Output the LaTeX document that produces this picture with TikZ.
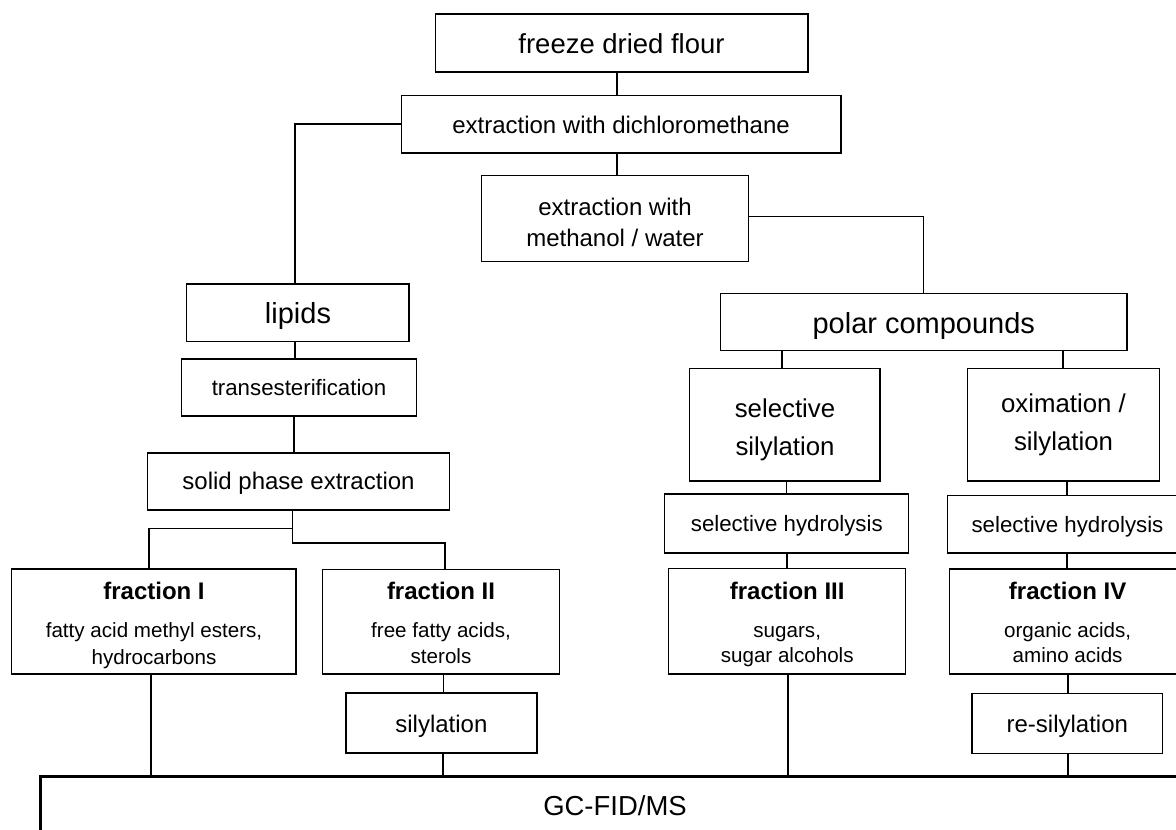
\documentclass[tikz,border=0pt]{standalone}
\usepackage{fontspec}
\setmainfont{Liberation Sans}
\usetikzlibrary{fit}
\newcommand\szXL{\fontsize{21.75pt}{26pt}\selectfont}
\newcommand\szL{\fontsize{20.6pt}{24pt}\selectfont}
\newcommand\szMM{\fontsize{19.35pt}{23pt}\selectfont}
\newcommand\szM{\fontsize{18pt}{22pt}\selectfont}
\newcommand\szS{\fontsize{16.7pt}{20pt}\selectfont}
\newcommand\szXS{\fontsize{15.45pt}{18pt}\selectfont}
\begin{document}
\begin{tikzpicture}[x=0.75pt,y=-0.75pt,
  box/.style={draw=black, line width=1pt, inner sep=0pt},
  gcbox/.style={draw=black, line width=2pt, inner sep=0pt},
  conn/.style={draw=black, line width=1pt},
  txt/.style={anchor=base, inner sep=0pt}]
\useasboundingbox (0,0) rectangle (1176,829);
\clip (0,0) rectangle (1176,829);
\fill[white] (0,0) rectangle (1176,829);
% boxes
\node[box, fit={(435.5,14) (808,72)}] (freeze) {};
\node[box, fit={(401.4,95.7) (841,153)}] (dcm) {};
\node[box, fit={(481.8,175.3) (748.4,261.3)}] (meoh) {};
\node[box, fit={(186.7,284) (409,341.3)}] (lipids) {};
\node[box, fit={(181.8,359) (416.3,416)}] (trans) {};
\node[box, fit={(147.5,453) (449.6,510)}] (spe) {};
\node[box, fit={(720.6,293.3) (1127,350.3)}] (polar) {};
\node[box, fit={(689.8,368.3) (879.9,481)}] (selsil) {};
\node[box, fit={(967.7,368.3) (1159.3,481)}] (oxim) {};
\node[box, fit={(664.8,494) (908.8,553)}] (selhydL) {};
\node[box, fit={(947.2,495.7) (1188,553)}] (selhydR) {};
\node[box, fit={(11.8,569) (296.1,674)}] (fI) {};
\node[box, fit={(322.6,569.3) (559.4,674)}] (fII) {};
\node[box, fit={(345.9,693) (536.9,753)}] (silyl) {};
\node[box, fit={(668.6,568.7) (905.7,674)}] (fIII) {};
\node[box, fit={(949.4,569) (1186,674)}] (fIV) {};
\node[box, fit={(971.9,693.3) (1162.7,753.7)}] (resil) {};
\node[gcbox, fit={(40.5,776.5) (1190,860)}] (gc) {};
% connector coordinates
\coordinate (cA) at (617,0);
\coordinate (cB) at (295,124);
\coordinate (cC) at (923.5,216.7);
\coordinate (cD) at (295,0);
\coordinate (cE) at (294,0);
\coordinate (cF) at (292.8,528.3);
\coordinate (cG) at (149,0);
\coordinate (cH) at (292.8,543);
\coordinate (cI) at (445,0);
\coordinate (cJ) at (151,0);
\coordinate (cK) at (443.5,0);
\coordinate (cL) at (443,0);
\coordinate (cM) at (782,0);
\coordinate (cN) at (1063,0);
\coordinate (cO) at (786.5,0);
\coordinate (cP) at (787,0);
\coordinate (cQ) at (788,0);
\coordinate (cR) at (1067,0);
\coordinate (cS) at (1068,0);
% connectors
\draw[conn] (freeze.south -| cA) -- (dcm.north -| cA);
\draw[conn] (dcm.south -| cA) -- (meoh.north -| cA);
\draw[conn] (dcm.west |- cB) -| (lipids.north -| cB);
\draw[conn] (meoh.east |- cC) -| (polar.north -| cC);
\draw[conn] (lipids.south -| cD) -- (trans.north -| cD);
\draw[conn] (trans.south -| cE) -- (spe.north -| cE);
\draw[conn] (spe.south -| cF) |- (cG |- cF) -- (fI.north -| cG);
\draw[conn] (spe.south -| cH) |- (cI |- cH) -- (fII.north -| cI);
\draw[conn] (fI.south -| cJ) -- (gc.north -| cJ);
\draw[conn] (fII.south -| cK) -- (silyl.north -| cK);
\draw[conn] (silyl.south -| cL) -- (gc.north -| cL);
\draw[conn] (polar.south -| cM) -- (selsil.north -| cM);
\draw[conn] (polar.south -| cN) -- (oxim.north -| cN);
\draw[conn] (selsil.south -| cO) -- (selhydL.north -| cO);
\draw[conn] (selhydL.south -| cP) -- (fIII.north -| cP);
\draw[conn] (fIII.south -| cQ) -- (gc.north -| cQ);
\draw[conn] (oxim.south -| cR) -- (selhydR.north -| cR);
\draw[conn] (selhydR.south -| cR) -- (fIV.north -| cR);
\draw[conn] (fIV.south -| cS) -- (resil.north -| cS);
\draw[conn] (resil.south -| cS) -- (gc.north -| cS);
% texts
\node[txt, font=\szL] (tfreeze) at (621.5,53.3) {freeze dried flour};
\node[txt, font=\szM] (tdcm) at (621,133.3) {extraction with dichloromethane};
\node[txt, font=\szM] (tmeoh1) at (615,215) {extraction with};
\node[txt, font=\szM] (tmeoh2) at (615,246.7) {methanol / water};
\node[txt, font=\szXL] (tlipids) at (298,323.3) {lipids};
\node[txt, font=\szS] (ttrans) at (299,395.7) {transesterification};
\node[txt, font=\szM] (tspe) at (298.5,489.3) {solid phase extraction};
\node[txt, font=\szXL] (tpolar) at (923.8,333.3) {polar compounds};
\node[txt, font=\szMM] (tselsil1) at (785,417.7) {selective};
\node[txt, font=\szMM] (tselsil2) at (785,455) {silylation};
\node[txt, font=\szMM] (toxim1) at (1063.5,412.7) {oximation /};
\node[txt, font=\szMM] (toxim2) at (1063.5,450) {silylation};
\node[txt, font=\szS] (tselhydL) at (786.8,531.7) {selective hydrolysis};
\node[txt, font=\szS] (tselhydR) at (1067.5,532.3) {selective hydrolysis};
\node[txt, font=\szM\bfseries] (tfI1) at (154,599) {fraction I};
\node[txt, font=\szXS] (tfI2) at (154,637.3) {fatty acid methyl esters,};
\node[txt, font=\szXS] (tfI3) at (154,664) {hydrocarbons};
\node[txt, font=\szM\bfseries] (tfII1) at (441,599) {fraction II};
\node[txt, font=\szXS] (tfII2) at (441,637.3) {free fatty acids,};
\node[txt, font=\szXS] (tfII3) at (441,663) {sterols};
\node[txt, font=\szM] (tsilyl) at (441.4,732.3) {silylation};
\node[txt, font=\szM\bfseries] (tfIII1) at (787.2,599) {fraction III};
\node[txt, font=\szXS] (tfIII2) at (787.2,637.3) {sugars,};
\node[txt, font=\szXS] (tfIII3) at (787.2,662) {sugar alcohols};
\node[txt, font=\szM\bfseries] (tfIV1) at (1067.6,599) {fraction IV};
\node[txt, font=\szXS] (tfIV2) at (1067.6,637.3) {organic acids,};
\node[txt, font=\szXS] (tfIV3) at (1067.6,662) {amino acids};
\node[txt, font=\szM] (tresil) at (1067.3,732.3) {re-silylation};
\node[txt, font=\szL] (tgc) at (615,815) {GC-FID/MS};
\end{tikzpicture}
\end{document}
